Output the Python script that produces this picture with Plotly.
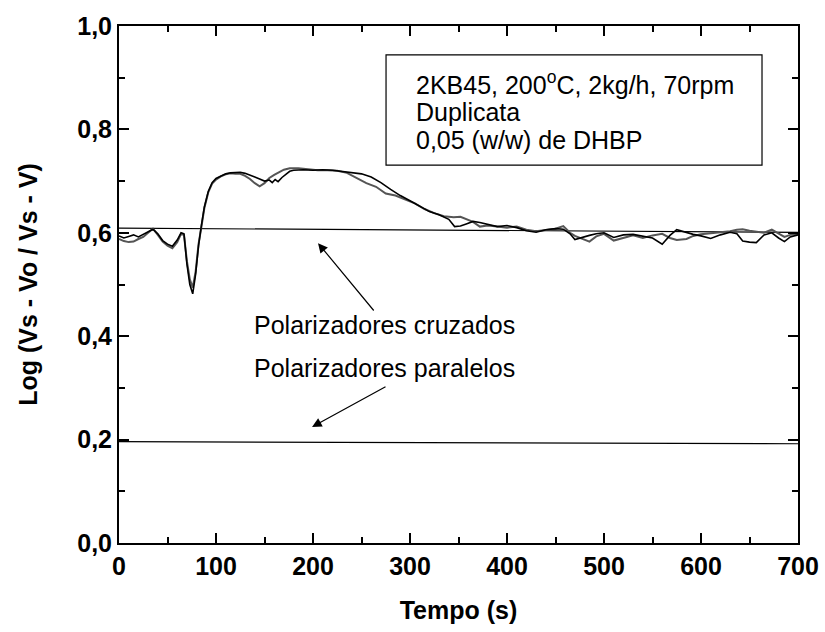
import plotly.graph_objects as go

# Time axis (s) and the two replicate runs of log(Vs - Vo / Vs - V)
t_run1 = [0, 5, 10, 15, 20, 25, 30, 35, 40, 45, 50, 55, 60, 64, 67, 70, 73, 76, 79, 82,
          85, 88, 92, 96, 100, 105, 110, 115, 120, 125, 130, 135, 140, 145, 150, 155, 158,
          161, 164, 168, 172, 176, 180, 190, 200, 210, 220, 230, 240, 250, 260, 270, 280,
          290, 300, 310, 320, 330, 340, 346, 352, 358, 365, 372, 380, 390, 400, 410, 420,
          430, 440, 450, 458, 465, 470, 478, 485, 492, 500, 510, 520, 530, 540, 550, 560,
          568, 575, 585, 592, 600, 610, 620, 630, 637, 643, 650, 657, 665, 673, 680, 686,
          692, 700]
v_run1 = [0.594, 0.590, 0.593, 0.596, 0.592, 0.597, 0.602, 0.607, 0.598, 0.585, 0.578,
          0.574, 0.586, 0.600, 0.598, 0.540, 0.500, 0.482, 0.520, 0.575, 0.615, 0.650,
          0.680, 0.697, 0.705, 0.710, 0.714, 0.716, 0.716, 0.717, 0.715, 0.712, 0.708,
          0.704, 0.700, 0.702, 0.697, 0.703, 0.699, 0.707, 0.713, 0.719, 0.721, 0.722,
          0.721, 0.722, 0.721, 0.719, 0.717, 0.714, 0.708, 0.697, 0.684, 0.672, 0.662,
          0.652, 0.641, 0.635, 0.626, 0.612, 0.613, 0.617, 0.622, 0.620, 0.616, 0.612,
          0.614, 0.610, 0.604, 0.601, 0.606, 0.608, 0.607, 0.598, 0.587, 0.592, 0.595,
          0.598, 0.600, 0.591, 0.596, 0.597, 0.593, 0.590, 0.578, 0.595, 0.606, 0.600,
          0.597, 0.594, 0.589, 0.596, 0.601, 0.598, 0.584, 0.582, 0.581, 0.596, 0.600,
          0.590, 0.583, 0.592, 0.596]

t_run2 = [0, 5, 10, 15, 20, 25, 30, 35, 40, 45, 50, 55, 60, 64, 67, 70, 73, 76, 79, 82,
          85, 88, 92, 96, 100, 105, 110, 115, 120, 125, 130, 135, 140, 145, 150, 155, 160,
          165, 170, 176, 185, 195, 205, 215, 225, 235, 245, 255, 265, 275, 285, 295, 305,
          315, 325, 335, 345, 352, 358, 365, 372, 380, 390, 400, 410, 420, 430, 440, 450,
          458, 465, 470, 478, 485, 492, 500, 510, 520, 530, 540, 550, 560, 568, 575, 585,
          592, 600, 610, 620, 630, 637, 643, 650, 657, 665, 673, 680, 686, 692, 700]
v_run2 = [0.588, 0.584, 0.582, 0.583, 0.588, 0.592, 0.600, 0.608, 0.596, 0.583, 0.575,
          0.570, 0.582, 0.598, 0.596, 0.545, 0.510, 0.494, 0.525, 0.578, 0.612, 0.648,
          0.678, 0.695, 0.703, 0.709, 0.713, 0.715, 0.714, 0.714, 0.710, 0.704, 0.696,
          0.690, 0.696, 0.706, 0.712, 0.717, 0.722, 0.725, 0.725, 0.723, 0.721, 0.721,
          0.720, 0.716, 0.706, 0.696, 0.689, 0.676, 0.672, 0.665, 0.657, 0.646, 0.638,
          0.632, 0.630, 0.631, 0.626, 0.621, 0.612, 0.614, 0.612, 0.610, 0.612, 0.606,
          0.603, 0.606, 0.608, 0.613, 0.600, 0.594, 0.588, 0.583, 0.593, 0.598, 0.585,
          0.590, 0.595, 0.590, 0.595, 0.598, 0.590, 0.586, 0.588, 0.594, 0.597, 0.599,
          0.601, 0.603, 0.606, 0.607, 0.604, 0.602, 0.600, 0.606, 0.598, 0.592, 0.596,
          0.597]

# Reference levels measured with crossed and parallel polarizers
t_ref = [0, 700]
v_crossed = [0.609, 0.601]
v_parallel = [0.196, 0.192]

x_tickvals = [0, 100, 200, 300, 400, 500, 600, 700]
x_ticktext = ["0", "100", "200", "300", "400", "500", "600", "700"]
y_tickvals = [0.0, 0.2, 0.4, 0.6, 0.8, 1.0]
y_ticktext = ["0,0", "0,2", "0,4", "0,6", "0,8", "1,0"]

FONT = "Liberation Sans, Arial, sans-serif"

fig = go.Figure()
fig.add_trace(go.Scatter(x=t_ref, y=v_crossed, mode="lines",
                         line=dict(color="black", width=1.2), showlegend=False))
fig.add_trace(go.Scatter(x=t_ref, y=v_parallel, mode="lines",
                         line=dict(color="black", width=1.2), showlegend=False))
fig.add_trace(go.Scatter(x=t_run2, y=v_run2, mode="lines",
                         line=dict(color="#555555", width=2.0), showlegend=False))
fig.add_trace(go.Scatter(x=t_run1, y=v_run1, mode="lines",
                         line=dict(color="black", width=1.6), showlegend=False))

axis_common = dict(
    showline=True, linecolor="black", linewidth=2, mirror="allticks",
    ticks="inside", ticklen=10, tickwidth=1.5, tickcolor="black",
    showgrid=False, zeroline=False,
    tickfont=dict(family=FONT, size=25, color="black", weight="bold"),
)

fig.update_xaxes(
    range=[0, 700], tickvals=x_tickvals, ticktext=x_ticktext,
    minor=dict(dtick=50, ticks="inside", ticklen=6, tickwidth=1.5, tickcolor="black"),
    title=dict(text="Tempo (s)", standoff=22,
               font=dict(family=FONT, size=25, color="black", weight="bold")),
    **axis_common,
)
fig.update_yaxes(
    range=[0, 1.0], tickvals=y_tickvals, ticktext=y_ticktext,
    minor=dict(dtick=0.1, ticks="inside", ticklen=6, tickwidth=1.5, tickcolor="black"),
    title=dict(text="Log (Vs - Vo / Vs - V)", standoff=32,
               font=dict(family=FONT, size=25, color="black", weight="bold")),
    **axis_common,
)

# Information box in the upper right
fig.add_shape(type="rect", xref="x", yref="y", x0=275.3, x1=662.9, y0=0.731, y1=0.944,
              line=dict(color="black", width=1.2), fillcolor="white")
box_lines = ["2KB45, 200<sup>o</sup>C, 2kg/h, 70rpm", "Duplicata", "0,05 (w/w) de DHBP"]
box_y = [0.889, 0.834, 0.780]
for txt, yy in zip(box_lines, box_y):
    fig.add_annotation(x=304, y=yy, xref="x", yref="y", text=txt, showarrow=False,
                       xanchor="left", yanchor="middle",
                       font=dict(family=FONT, size=25, color="black"))

# Labels for the reference lines, with arrows
fig.add_annotation(x=274.2, y=0.4217, xref="x", yref="y", text="Polarizadores cruzados",
                   showarrow=False, xanchor="center", yanchor="middle",
                   font=dict(family=FONT, size=25, color="black"))
fig.add_annotation(x=273.2, y=0.3385, xref="x", yref="y", text="Polarizadores paralelos",
                   showarrow=False, xanchor="center", yanchor="middle",
                   font=dict(family=FONT, size=25, color="black"))
fig.add_annotation(x=205.2, y=0.580, ax=263.9, ay=0.4468, xref="x", yref="y",
                   axref="x", ayref="y", text="", showarrow=True, arrowhead=2,
                   arrowsize=1.6, arrowwidth=1.2, arrowcolor="black")
fig.add_annotation(x=199.0, y=0.2244, ax=276.3, ay=0.3037, xref="x", yref="y",
                   axref="x", ayref="y", text="", showarrow=True, arrowhead=2,
                   arrowsize=1.6, arrowwidth=1.2, arrowcolor="black")

fig.update_layout(
    width=825, height=632,
    margin=dict(l=119, r=27, t=26, b=89, autoexpand=False),
    paper_bgcolor="white", plot_bgcolor="white",
    showlegend=False,
)

fig.write_html("out.html")
